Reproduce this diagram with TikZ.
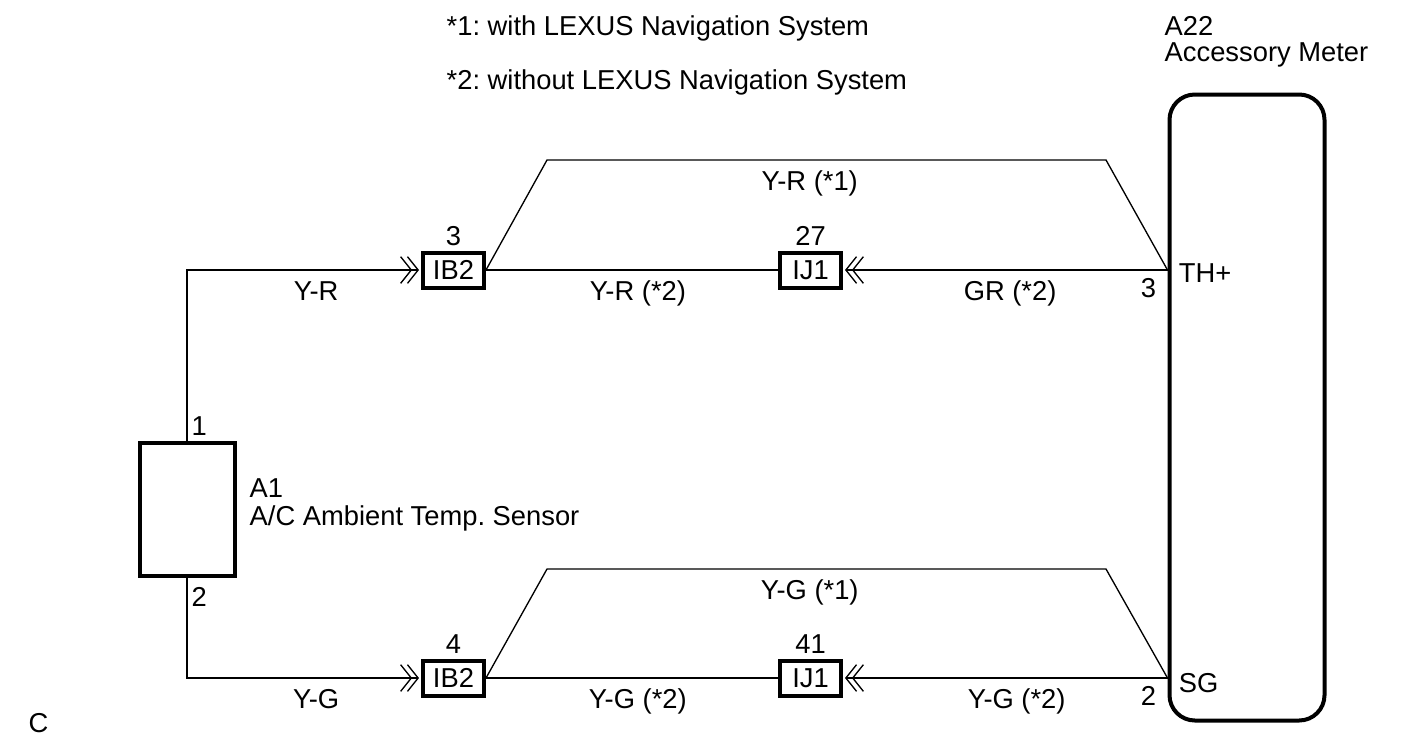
\documentclass[tikz,border=0pt]{standalone}
\usepackage{fontspec}
\setmainfont{Liberation Sans}
\usetikzlibrary{arrows.meta}
\frenchspacing

\tikzset{
  conn/.style={draw, line width=3pt, minimum width=45.75pt, minimum height=26.25pt, inner sep=0pt},
  wire/.style={line width=1pt},
  plug/.style={-{Straight Barb[length=8pt, width=20pt, sep=-4pt] Straight Barb[length=8pt, width=20pt]}, shorten >=1.5pt},
  wlabel/.style={anchor=base, yshift=-22.5pt},
  pinno/.style={anchor=base, yshift=4pt}
}

\begin{document}
\begin{tikzpicture}[x=0.75pt, y=-0.75pt, every node/.style={font=\fontsize{20.5}{24}\selectfont}]
          \useasboundingbox (0,0) rectangle (1426,746);
          % parts
          \node[draw, line width=3pt, minimum width=71.25pt, minimum height=99.75pt, inner sep=0pt] (sens) at (187,509) {};
          \node[draw, line width=3pt, rounded corners=19pt, minimum width=116.25pt, minimum height=469.5pt, inner sep=0pt] (meter) at (1247,407.5) {};
          \node[conn] (ibtop) at (453.5,270) {IB2};
          \node[conn] (ijtop) at (810.5,270) {IJ1};
          \node[conn] (ibbot) at (453.5,678) {IB2};
          \node[conn] (ijbot) at (810.5,678) {IJ1};
          \coordinate (th) at (meter.west |- ibtop);
          \coordinate (sg) at (meter.west |- ibbot);
          \coordinate (bt1) at (547,160);
          \coordinate (bt2) at (1106,160);
          \coordinate (bb1) at (547,569);
          \coordinate (bb2) at (1106,569);
          % texts
          \node[anchor=base west] (note1) at (442,36) {*1: with LEXUS Navigation System};
          \node[anchor=base west] (note2) at (442,89) {*2: without LEXUS Navigation System};
          \node[anchor=base west] (a22) at (1160,35) {A22};
          \node[anchor=base west] (a22name) at (1160,61) {Accessory Meter};
          \node[anchor=base west] (a1) at (245,497) {A1};
          \node[anchor=base west] (a1name) at (245,525) {A/C Ambient Temp. Sensor};
          \node[anchor=base west] (code) at (24,732) {C};
          \node[anchor=base west, xshift=0pt, yshift=4pt] (s1) at (sens.north) {1};
          \node[anchor=base west, xshift=0pt, yshift=-21.4pt] (s2) at (sens.south) {2};
          \node[pinno] (n3) at (ibtop.north) {3};
          \node[pinno] (n27) at (ijtop.north) {27};
          \node[pinno] (n4) at (ibbot.north) {4};
          \node[pinno] (n41) at (ijbot.north) {41};
          \node[anchor=base east, xshift=-5pt, yshift=-20.25pt] (m3) at (th) {3};
          \node[anchor=base west, xshift=5pt, yshift=-9pt] (thp) at (th) {TH+};
          \node[anchor=base east, xshift=-5pt, yshift=-20.25pt] (m2) at (sg) {2};
          \node[anchor=base west, xshift=5pt, yshift=-11pt] (sgp) at (sg) {SG};
          % TH+ line
          \draw[wire, plug] (sens.north) |- node[pos=0.776, wlabel] (lyr) {Y-R} (ibtop.west);
          \draw[wire] (ibtop.east) to node[pos=0.52, wlabel] (lyr2) {Y-R (*2)} (ijtop.west);
          \draw[wire, plug] (th) to node[pos=0.485, wlabel] (lgr2) {GR (*2)} (ijtop.east);
          \draw[wire] (ibtop.east) -- (bt1) -- node[pos=0.47, wlabel] (lyr1) {Y-R (*1)} (bt2) -- (th);
          % SG line
          \draw[wire, plug] (sens.south) |- node[pos=0.776, wlabel] (lyg) {Y-G} (ibbot.west);
          \draw[wire] (ibbot.east) to node[pos=0.52, wlabel] (lyg2) {Y-G (*2)} (ijbot.west);
          \draw[wire, plug] (sg) to node[pos=0.465, wlabel] (lyg3) {Y-G (*2)} (ijbot.east);
          \draw[wire] (ibbot.east) -- (bb1) -- node[pos=0.47, wlabel] (lyg1) {Y-G (*1)} (bb2) -- (sg);
        \end{tikzpicture}
\end{document}
